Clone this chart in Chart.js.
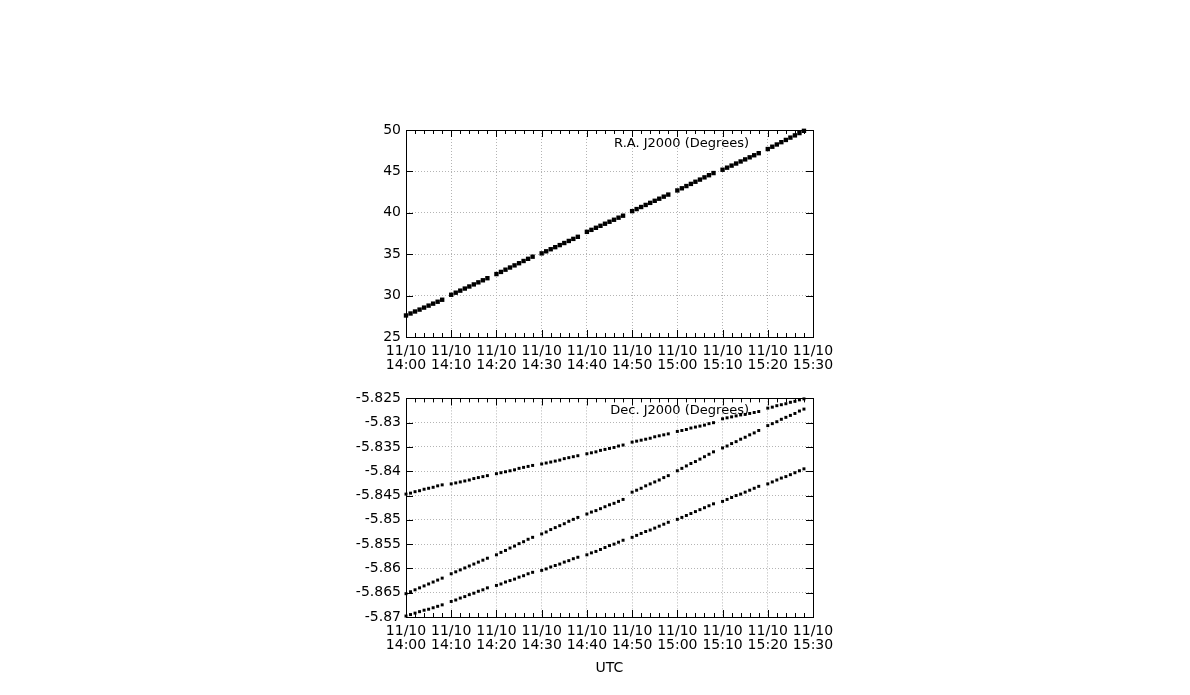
<!DOCTYPE html>
<html>
<head>
<meta charset="utf-8">
<script src="https://cdn.jsdelivr.net/npm/chart.js@4.4.1/dist/chart.umd.min.js"></script>
<style>
  body { margin: 0; background: #fff; }
  canvas { position: absolute; left: 300px; }
  #ra { top: 110px; }
  #dec { top: 385px; }
</style>
</head>
<body>
<canvas id="ra" width="560" height="275"></canvas>
<canvas id="dec" width="560" height="300"></canvas>
<script>
// minutes after 11/10 14:00 UTC
const minutes = [
  0, 1, 2, 3, 4, 5, 6, 7, 8,
  10, 11, 12, 13, 14, 15, 16, 17, 18,
  20, 21, 22, 23, 24, 25, 26, 27, 28,
  30, 31, 32, 33, 34, 35, 36, 37, 38,
  40, 41, 42, 43, 44, 45, 46, 47, 48,
  50, 51, 52, 53, 54, 55, 56, 57, 58,
  60, 61, 62, 63, 64, 65, 66, 67, 68,
  70, 71, 72, 73, 74, 75, 76, 77, 78,
  80, 81, 82, 83, 84, 85, 86, 87, 88
];
const dateLabel = "11/10";
const timeLabels = ["14:00", "14:10", "14:20", "14:30", "14:40", "14:50", "15:00", "15:10", "15:20", "15:30"];

const raValues = [
  27.6, 27.84, 28.08, 28.31, 28.55, 28.79, 29.03, 29.26, 29.5,
  30.1, 30.35, 30.6, 30.85, 31.1, 31.35, 31.6, 31.85, 32.1,
  32.6, 32.86, 33.13, 33.39, 33.65, 33.91, 34.18, 34.44, 34.7,
  35.1, 35.35, 35.6, 35.85, 36.1, 36.35, 36.6, 36.85, 37.1,
  37.7, 37.94, 38.19, 38.43, 38.68, 38.92, 39.16, 39.41, 39.65,
  40.2, 40.45, 40.7, 40.95, 41.2, 41.45, 41.7, 41.95, 42.2,
  42.7, 42.96, 43.23, 43.49, 43.75, 44.01, 44.28, 44.54, 44.8,
  45.2, 45.45, 45.7, 45.95, 46.2, 46.45, 46.7, 46.95, 47.2,
  47.7, 47.98, 48.25, 48.53, 48.8, 49.08, 49.35, 49.63, 49.9
];

const decUpper = [
  -5.8447, -5.8445, -5.8442, -5.8440, -5.8437, -5.8435, -5.8433, -5.8430, -5.8428,
  -5.8426, -5.8424, -5.8422, -5.8420, -5.8418, -5.8415, -5.8413, -5.8411, -5.8409,
  -5.8405, -5.8403, -5.8401, -5.8399, -5.8397, -5.8394, -5.8392, -5.8390, -5.8388,
  -5.8385, -5.8383, -5.8381, -5.8379, -5.8377, -5.8374, -5.8372, -5.8370, -5.8368,
  -5.8364, -5.8362, -5.8360, -5.8357, -5.8355, -5.8353, -5.8351, -5.8348, -5.8346,
  -5.8340, -5.8338, -5.8336, -5.8334, -5.8332, -5.8329, -5.8327, -5.8325, -5.8323,
  -5.8318, -5.8316, -5.8314, -5.8311, -5.8309, -5.8307, -5.8305, -5.8302, -5.8300,
  -5.8292, -5.8290, -5.8288, -5.8286, -5.8284, -5.8283, -5.8281, -5.8279, -5.8277,
  -5.8270, -5.8268, -5.8265, -5.8263, -5.8261, -5.8258, -5.8256, -5.8253, -5.8251
];

const decMiddle = [
  -5.8652, -5.8648, -5.8644, -5.8640, -5.8636, -5.8632, -5.8628, -5.8624, -5.8620,
  -5.8611, -5.8607, -5.8603, -5.8599, -5.8595, -5.8591, -5.8587, -5.8583, -5.8579,
  -5.8572, -5.8567, -5.8563, -5.8558, -5.8554, -5.8549, -5.8545, -5.8540, -5.8536,
  -5.8529, -5.8525, -5.8520, -5.8516, -5.8512, -5.8508, -5.8503, -5.8499, -5.8495,
  -5.8488, -5.8484, -5.8481, -5.8477, -5.8473, -5.8469, -5.8466, -5.8462, -5.8458,
  -5.8443, -5.8439, -5.8435, -5.8430, -5.8426, -5.8422, -5.8418, -5.8413, -5.8409,
  -5.8399, -5.8394, -5.8389, -5.8384, -5.8380, -5.8375, -5.8370, -5.8365, -5.8360,
  -5.8352, -5.8348, -5.8343, -5.8339, -5.8334, -5.8330, -5.8325, -5.8321, -5.8316,
  -5.8306, -5.8302, -5.8298, -5.8293, -5.8289, -5.8285, -5.8281, -5.8276, -5.8272
];

const decLower = [
  -5.8698, -5.8695, -5.8692, -5.8689, -5.8686, -5.8684, -5.8681, -5.8678, -5.8675,
  -5.8668, -5.8665, -5.8661, -5.8658, -5.8654, -5.8651, -5.8647, -5.8644, -5.8640,
  -5.8635, -5.8632, -5.8628, -5.8625, -5.8622, -5.8618, -5.8615, -5.8611, -5.8608,
  -5.8604, -5.8601, -5.8597, -5.8594, -5.8591, -5.8587, -5.8584, -5.8580, -5.8577,
  -5.8572, -5.8568, -5.8565, -5.8561, -5.8557, -5.8553, -5.8550, -5.8546, -5.8542,
  -5.8536, -5.8532, -5.8528, -5.8524, -5.8521, -5.8517, -5.8513, -5.8509, -5.8505,
  -5.8499, -5.8495, -5.8491, -5.8487, -5.8483, -5.8479, -5.8475, -5.8471, -5.8467,
  -5.8462, -5.8458, -5.8454, -5.8450, -5.8447, -5.8443, -5.8439, -5.8435, -5.8431,
  -5.8426, -5.8422, -5.8418, -5.8414, -5.8411, -5.8407, -5.8403, -5.8399, -5.8395
];

const FONT = '"DejaVu Sans", sans-serif';

function pts(ys) {
  return minutes.map((m, i) => ({ x: m, y: ys[i] }));
}

// gnuplot-like frame: black box, inward ticks, key text
const framePlugin = {
  id: "frame",
  beforeDatasetsDraw(chart, args, opts) {
    const { ctx, chartArea: a, scales: { x, y } } = chart;
    ctx.save();
    ctx.strokeStyle = "#000";
    ctx.lineWidth = 1;
    ctx.beginPath();
    for (let m = x.min; m <= x.max; m += 2) {
      const px = Math.round(x.getPixelForValue(m)) + 0.5;
      const len = m % 10 === 0 ? 7 : 4;
      ctx.moveTo(px, a.bottom); ctx.lineTo(px, a.bottom - len);
      ctx.moveTo(px, a.top); ctx.lineTo(px, a.top + len);
    }
    y.ticks.forEach(t => {
      const py = Math.round(y.getPixelForValue(t.value)) + 0.5;
      ctx.moveTo(a.left, py); ctx.lineTo(a.left + 7, py);
      ctx.moveTo(a.right, py); ctx.lineTo(a.right - 7, py);
    });
    ctx.stroke();
    ctx.strokeRect(Math.round(a.left) + 0.5, Math.round(a.top) + 0.5, Math.round(a.width), Math.round(a.height));
    ctx.font = "13px " + FONT;
    ctx.fillStyle = "#000";
    ctx.textAlign = "right";
    ctx.textBaseline = "middle";
    ctx.fillText(opts.label, a.right - 64, a.top + opts.dy);
    ctx.restore();
  }
};

function xScale(withTitle) {
  return {
    type: "linear",
    min: 0,
    max: 90,
    afterFit: s => { s.height = withTitle ? 68 : 48; },
    grid: { color: "#b4b4b4", drawTicks: false },
    border: { display: false, dash: [1, 2] },
    ticks: {
      stepSize: 10,
      autoSkip: false,
      maxRotation: 0,
      padding: 7,
      color: "#000",
      font: { family: FONT, size: 14, lineHeight: 1.0 },
      callback: v => [dateLabel, timeLabels[Math.round(v / 10)]]
    },
    title: {
      display: withTitle,
      text: "UTC",
      color: "#000",
      font: { family: FONT, size: 14, lineHeight: 1.0 },
      padding: { top: 0, bottom: 10 }
    }
  };
}

function yScale(min, max, step, fmt) {
  return {
    min: min,
    max: max,
    afterFit: s => { s.width = 106; },
    grid: { color: "#b4b4b4", drawTicks: false },
    border: { display: false, dash: [1, 2] },
    ticks: {
      stepSize: step,
      padding: 5,
      color: "#000",
      font: { family: FONT, size: 14 },
      callback: fmt
    }
  };
}

function commonOptions(padTop, label, dy, yOpts, withTitle) {
  return {
    responsive: false,
    animation: false,
    layout: { padding: { top: padTop, right: 47, left: 0, bottom: 0 } },
    plugins: {
      legend: { display: false },
      tooltip: { enabled: false },
      frame: { label: label, dy: dy }
    },
    scales: { x: xScale(withTitle), y: yOpts }
  };
}

new Chart(document.getElementById("ra").getContext("2d"), {
  type: "scatter",
  data: {
    datasets: [{
      data: pts(raValues),
      pointStyle: "rect",
      pointRadius: 3.1,
      backgroundColor: "#000",
      borderWidth: 0,
      clip: false
    }]
  },
  options: commonOptions(20, "R.A. J2000 (Degrees)", 14,
    yScale(25, 50, 5, v => v), false),
  plugins: [framePlugin]
});

const decStyle = { pointStyle: "rect", pointRadius: 2.1, backgroundColor: "#000", borderWidth: 0, clip: false };

new Chart(document.getElementById("dec").getContext("2d"), {
  type: "scatter",
  data: {
    datasets: [
      Object.assign({ data: pts(decUpper) }, decStyle),
      Object.assign({ data: pts(decMiddle) }, decStyle),
      Object.assign({ data: pts(decLower) }, decStyle)
    ]
  },
  options: commonOptions(13, "Dec. J2000 (Degrees)", 12,
    yScale(-5.87, -5.825, 0.005, v => +v.toFixed(3)), true),
  plugins: [framePlugin]
});
</script>
</body>
</html>
